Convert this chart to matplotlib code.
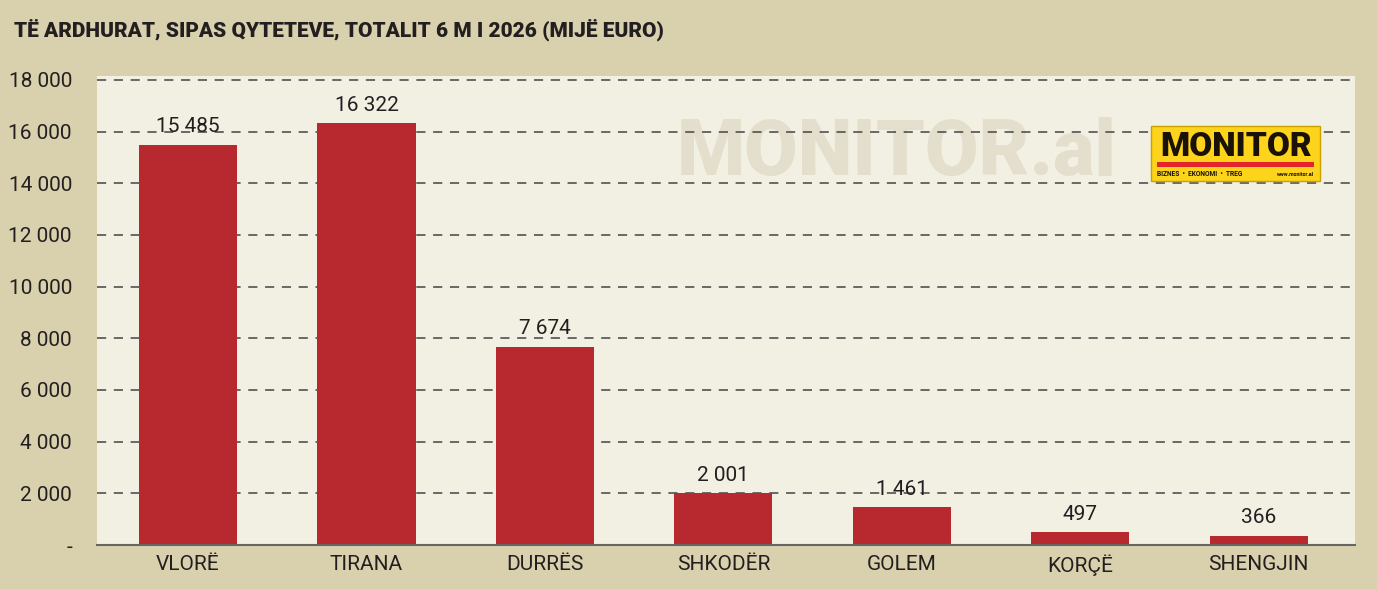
import matplotlib.pyplot as plt
from matplotlib.patches import Rectangle

## data
qytetet = ["VLORË", "TIRANA", "DURRËS", "SHKODËR", "GOLEM", "KORÇË", "SHENGJIN"]
vlerat = [15485, 16322, 7674, 2001, 1461, 497, 366]
yticks = [0, 2000, 4000, 6000, 8000, 10000, 12000, 14000, 16000, 18000]
ylabels = ["-", "2 000", "4 000", "6 000", "8 000", "10 000", "12 000", "14 000", "16 000", "18 000"]

plt.rcParams['font.family'] = ["Roboto", "DejaVu Sans"]

fig = plt.figure(figsize=(13.77, 5.89), dpi=100)
fig.patch.set_facecolor("#d9d1ad")
ax = fig.add_axes([97/1377, 1-545/589, (1355-97)/1377, (545-76)/589])

x = range(len(qytetet))
ax.bar(x, vlerat, width=0.55, color="#b8282f", zorder=3)
for i, v in zip(x, vlerat):
    lbl = "{:,}".format(v).replace(",", " ")
    ax.text(i, v + 330, lbl, ha="center", va="bottom", fontsize=15, color="#231f20", zorder=4)

ax.set_xlim(-0.51, 6.54)
ax.set_ylim(0, 18150)
ax.set_yticks(yticks)
ax.set_yticklabels(ylabels)
ax.set_xticks(list(x))
ax.set_xticklabels(qytetet)
ax.tick_params(axis="both", length=0, labelsize=15, colors="#231f20")
ax.tick_params(axis="x", pad=7)
ax.tick_params(axis="y", pad=18)
ax.grid(axis="y", color="#444444", linestyle=(0, (6, 5)), linewidth=1.1, zorder=2)
for s in ["top", "right", "left"]:
    ax.spines[s].set_visible(False)
ax.spines["bottom"].set_color("#666666")
ax.spines["bottom"].set_linewidth(1.5)
ax.spines["bottom"].set_zorder(5)

## plot background drawn on the figure so the watermark sits under the gridlines
ax.set_zorder(1)
ax.patch.set_alpha(0)
fig.patches.append(Rectangle((97/1377, 1-545/589), (1355-97)/1377, (545-76)/589,
                             transform=fig.transFigure, facecolor="#f2efe3", edgecolor="none", zorder=0.1))
fig.text(677/1377, 1-154/589, "MONITOR.al", fontsize=56, fontweight=900,
         color="#e4dfcc", ha="left", va="center", zorder=0.5)

## logo
lx0, ly0, lw, lh = 1151/1377, 1-181/589, (1320-1151)/1377, (181-126)/589
fig.patches.append(Rectangle((lx0, ly0), lw, lh, transform=fig.transFigure,
                             facecolor="#fdd31c", edgecolor="#c9a200", linewidth=1, zorder=6))
fig.patches.append(Rectangle((1157/1377, 1-167/589), (1314-1157)/1377, 5/589, transform=fig.transFigure,
                             facecolor="#e4232a", edgecolor="none", zorder=7))
fig.text(1236/1377, 1-147/589, "MONITOR", ha="center", va="center", fontsize=24, fontweight=900,
         color="#1a1208", zorder=8)
fig.text(1157/1377, 1-174/589, "BIZNES  •  EKONOMI  •  TREG", ha="left", va="center", fontsize=4.8,
         fontweight="bold", color="#1a1208", zorder=8)
fig.text(1314/1377, 1-174/589, "www.monitor.al", ha="right", va="center", fontsize=3.8,
         fontweight="bold", color="#1a1208", zorder=8)

## title
fig.text(14/1377, 1-30/589, "TË ARDHURAT, SIPAS QYTETEVE, TOTALIT 6 M I 2026 (MIJË EURO)",
         ha="left", va="center", fontsize=15, fontweight=900, color="#231f20")

fig.savefig("out.png", dpi=100, facecolor=fig.get_facecolor())
